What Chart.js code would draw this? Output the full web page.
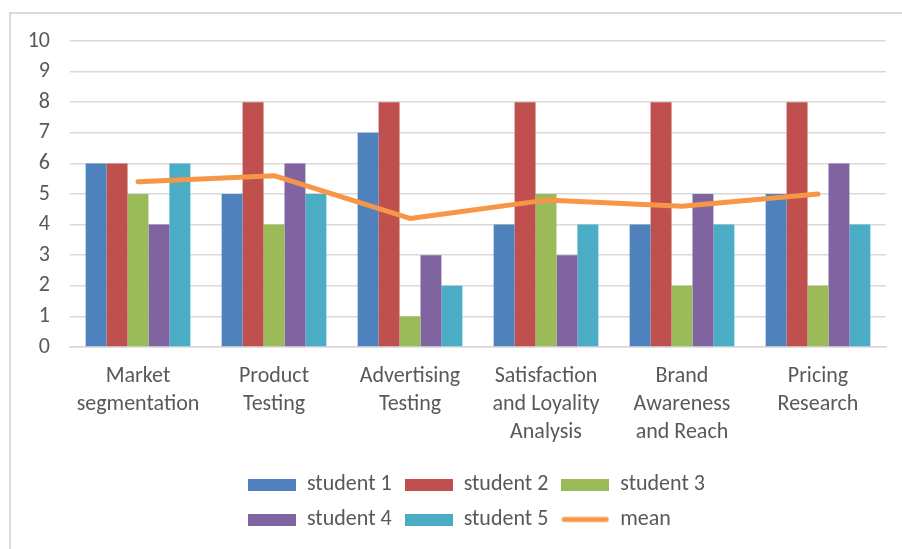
<!DOCTYPE html>
<html>
<head>
<meta charset="utf-8">
<script src="https://cdn.jsdelivr.net/npm/chart.js@4"></script>
<style>
  html, body { margin: 0; padding: 0; background: #fff; overflow: hidden; }
  #frame { position: absolute; left: 9px; top: 12px; width: 2000px; height: 2000px; border: 2px solid #d9d9d9; }
  #wrap { position: absolute; left: 0; top: 0; width: 902px; height: 549px; }
</style>
</head>
<body>
<div id="frame"></div>
<div id="wrap"><canvas id="chart" width="902" height="549"></canvas></div>
<script>
const categories = [
    ['Market', 'segmentation'],
    ['Product', 'Testing'],
    ['Advertising', 'Testing'],
    ['Satisfaction', 'and Loyality', 'Analysis'],
    ['Brand', 'Awareness', 'and Reach'],
    ['Pricing', 'Research']
];
const student1 = [6, 5, 7, 4, 4, 5];
const student2 = [6, 8, 8, 8, 8, 8];
const student3 = [5, 4, 1, 5, 2, 2];
const student4 = [4, 6, 3, 3, 5, 6];
const student5 = [6, 5, 2, 4, 4, 4];
const mean = [5.4, 5.6, 4.2, 4.8, 4.6, 5.0];
const yTicks = [0, 1, 2, 3, 4, 5, 6, 7, 8, 9, 10];

const FONT = 'Calibri, Carlito, Lato, sans-serif';
const TEXT = '#595959';
const GRID = '#d9d9d9';

// legend swatches: flat rectangles for bars, a thick rounded stroke for the line
function swatch(color, isLine) {
    const c = document.createElement('canvas');
    c.width = 48; c.height = 12;
    const g = c.getContext('2d');
    if (isLine) {
        g.strokeStyle = color; g.lineWidth = 5; g.lineCap = 'round';
        g.beginPath(); g.moveTo(3, 6); g.lineTo(45, 6); g.stroke();
    } else {
        g.fillStyle = color; g.fillRect(0, 0, 48, 12);
    }
    return c;
}

function bar(label, data, color) {
    return { type: 'bar', label, data, backgroundColor: color, borderWidth: 0, order: 2,
             barPercentage: 1.0, categoryPercentage: 0.77, legendIcon: swatch(color, false) };
}

// Excel-style legend: three entries per row, rows start at the same x
const legendRows = {
    id: 'legendRows',
    beforeLayout(chart) {
        const lg = chart.legend;
        if (lg && !lg._rowsPatched) {
            const upd = lg.update;
            lg.update = function (w, h, m) { upd.call(this, Math.min(w, 560), h, m); };
            lg._rowsPatched = true;
        }
    },
    afterLayout(chart) {
        const lg = chart.legend;
        if (!lg) return;
        lg.left = 235;
        lg.right = 235 + 560;
        lg.width = 560;
    }
};

new Chart(document.getElementById('chart'), {
    data: {
        labels: categories,
        datasets: [
            bar('student 1', student1, '#4f81bd'),
            bar('student 2', student2, '#c0504d'),
            bar('student 3', student3, '#9bbb59'),
            bar('student 4', student4, '#8064a2'),
            bar('student 5', student5, '#4bacc6'),
            { type: 'line', label: 'mean', data: mean, borderColor: '#f79646', backgroundColor: '#f79646',
              borderWidth: 5, borderCapStyle: 'round', borderJoinStyle: 'round', pointRadius: 0,
              tension: 0, order: 1, legendIcon: swatch('#f79646', true) }
        ]
    },
    options: {
        responsive: false,
        animation: false,
        layout: { padding: { left: 10, right: 16, top: 41, bottom: 8.5 } },
        scales: {
            x: {
                grid: { display: false, drawTicks: false },
                border: { display: true, color: GRID, width: 1.5 },
                ticks: { color: TEXT, padding: 15, maxRotation: 0, autoSkip: false,
                         font: { family: FONT, size: 22, lineHeight: 1.273 } },
                afterFit(axis) { axis.height = 113.5; }
            },
            y: {
                min: 0, max: 10,
                afterBuildTicks(axis) { axis.ticks = yTicks.map(v => ({ value: v })); },
                grid: { color: GRID, lineWidth: 1.5, drawTicks: false },
                border: { display: false },
                ticks: { color: TEXT, padding: 20, font: { family: FONT, size: 22 } },
                afterFit(axis) { axis.width = 60; }
            }
        },
        plugins: {
            tooltip: { enabled: false },
            legend: {
                position: 'bottom',
                align: 'start',
                labels: {
                    color: TEXT,
                    font: { family: FONT, size: 22 },
                    usePointStyle: true,
                    pointStyleWidth: 48,
                    padding: 13,
                    sort: (a, b) => a.datasetIndex - b.datasetIndex,
                    generateLabels(chart) {
                        const items = Chart.defaults.plugins.legend.labels.generateLabels(chart);
                        items.forEach(it => { it.pointStyle = chart.data.datasets[it.datasetIndex].legendIcon; });
                        return items;
                    }
                }
            }
        }
    },
    plugins: [legendRows]
});
</script>
</body>
</html>
